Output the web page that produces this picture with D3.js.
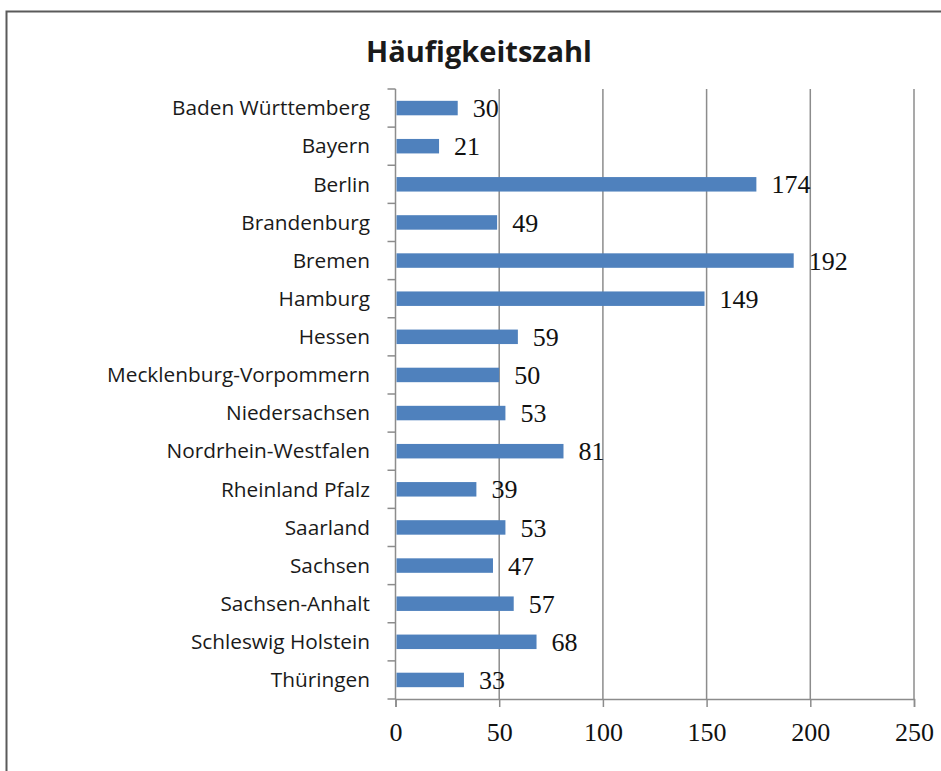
<!DOCTYPE html>
<html>
<head>
<meta charset="utf-8">
<script src="https://cdn.jsdelivr.net/npm/d3@7"></script>
<style>
  body { margin: 0; background: #fff; }
  .cat { font-family: "Open Sans", sans-serif; font-size: 20.8px; fill: #1a1a1a; }
  .num { font-family: "Liberation Serif", serif; font-size: 26px; fill: #111; }
</style>
</head>
<body>
<div id="chart"></div>
<script>
// Data
var states = ["Baden Württemberg", "Bayern", "Berlin", "Brandenburg", "Bremen", "Hamburg",
  "Hessen", "Mecklenburg-Vorpommern", "Niedersachsen", "Nordrhein-Westfalen",
  "Rheinland Pfalz", "Saarland", "Sachsen", "Sachsen-Anhalt", "Schleswig Holstein", "Thüringen"];
var values = [30, 21, 174, 49, 192, 149, 59, 50, 53, 81, 39, 53, 47, 57, 68, 33];
var xTicks = [0, 50, 100, 150, 200, 250];
var title = "Häufigkeitszahl";

var width = 941;
var height = 771;

var svg = d3.select("#chart")
  .append("svg")
  .attr("width", width)
  .attr("height", height);

// outer frame (runs off the right and bottom edge)
svg.append("rect")
  .attr("x", 6.5)
  .attr("y", 11.5)
  .attr("width", 960)
  .attr("height", 800)
  .style("fill", "none")
  .style("stroke", "#5a5a5a")
  .style("stroke-width", 2);

svg.append("text")
  .attr("x", 479)
  .attr("y", 62)
  .attr("text-anchor", "middle")
  .style("font-family", "'Open Sans', sans-serif")
  .style("font-weight", "bold")
  .style("font-size", "29px")
  .style("fill", "#1a1a1a")
  .text(title);

var x = d3.scaleLinear()
  .domain([0, 250])
  .range([395.5, 914]);

var y = d3.scaleBand()
  .domain(states)
  .range([89, 699])
  .paddingInner(0.62)
  .paddingOuter(0.31);

var grey = "#8c8c8c";

// vertical grid lines
svg.append("g")
  .selectAll("line")
  .data(xTicks.slice(1))
  .enter()
  .append("line")
  .attr("x1", function(d) { return x(d); })
  .attr("x2", function(d) { return x(d); })
  .attr("y1", 89)
  .attr("y2", 699)
  .style("stroke", grey)
  .style("stroke-width", 1.5);

// bottom axis
var xAxis = svg.append("g")
  .attr("transform", "translate(0,699)")
  .call(d3.axisBottom(x).tickValues(xTicks).tickSize(8).tickPadding(16));
xAxis.select(".domain").style("stroke", grey).style("stroke-width", 1.5);
xAxis.selectAll(".tick line").style("stroke", grey).style("stroke-width", 1.5);
xAxis.selectAll(".tick text")
  .attr("class", "num")
  .attr("dy", "0.71em");
xAxis.attr("font-family", null).attr("font-size", null);

// left axis line with ticks at band boundaries
var step = y.step();
var bounds = d3.range(states.length + 1).map(function(i) { return 89 + i * step; });
svg.append("line")
  .attr("x1", x(0)).attr("x2", x(0))
  .attr("y1", 89).attr("y2", 699)
  .style("stroke", grey)
  .style("stroke-width", 1.5);
svg.append("g")
  .selectAll("line")
  .data(bounds)
  .enter()
  .append("line")
  .attr("x1", x(0) - 8)
  .attr("x2", x(0))
  .attr("y1", function(d) { return d; })
  .attr("y2", function(d) { return d; })
  .style("stroke", grey)
  .style("stroke-width", 1.5);

// category labels
svg.append("g")
  .selectAll("text")
  .data(states)
  .enter()
  .append("text")
  .attr("class", "cat")
  .attr("x", 370)
  .attr("y", function(d) { return y(d) + y.bandwidth() / 2; })
  .attr("dy", "0.35em")
  .attr("text-anchor", "end")
  .text(function(d) { return d; });

// bars
svg.append("g")
  .selectAll("rect")
  .data(values)
  .enter()
  .append("rect")
  .attr("x", x(0) + 1)
  .attr("y", function(d, i) { return y(states[i]); })
  .attr("width", function(d) { return x(d) - x(0) - 1; })
  .attr("height", y.bandwidth())
  .style("fill", "#4f81bd");

// value labels
svg.append("g")
  .selectAll("text")
  .data(values)
  .enter()
  .append("text")
  .attr("class", "num")
  .attr("x", function(d) { return x(d) + 15; })
  .attr("y", function(d, i) { return y(states[i]) + y.bandwidth() / 2; })
  .attr("dy", "0.35em")
  .text(function(d) { return d; });
</script>
</body>
</html>
